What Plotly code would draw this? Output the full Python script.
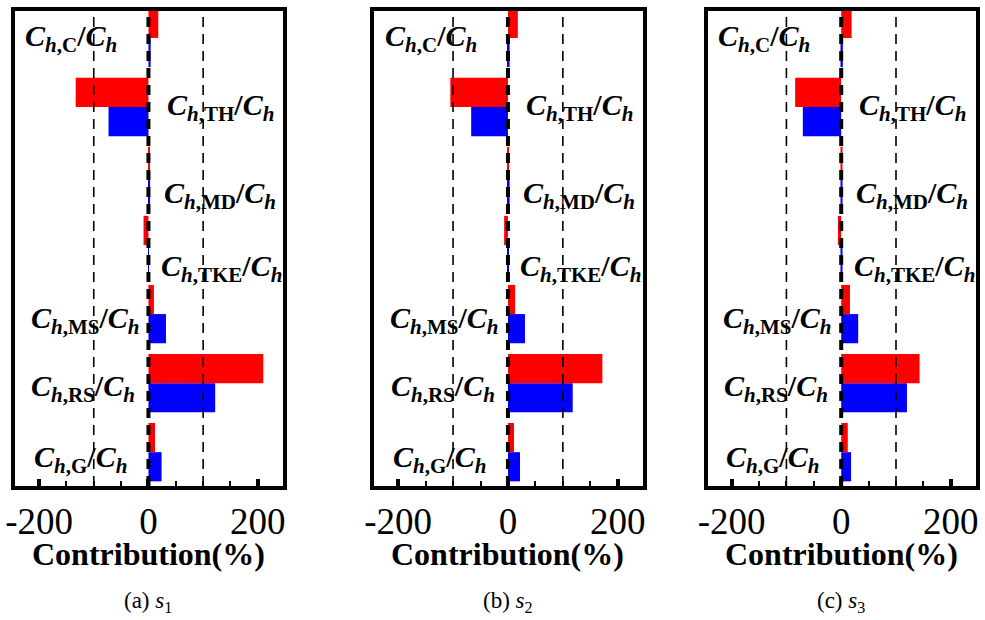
import plotly.graph_objects as go

# ---------------- data ----------------
categories = ["C", "TH", "MD", "TKE", "MS", "RS", "G"]   # top -> bottom
panel_captions = ["(a) <i>s</i><sub>1</sub>", "(b) <i>s</i><sub>2</sub>", "(c) <i>s</i><sub>3</sub>"]

red_s1 = [18, -133, 2, -9, 10, 210, 12]
blue_s1 = [4, -73, 3, 1, 32, 122, 24]
red_s2 = [18, -105, 2, -7, 13, 172, 11]
blue_s2 = [3, -67, 3, 1, 31, 118, 22]
red_s3 = [19, -84, 2, -6, 16, 143, 12]
blue_s3 = [3, -70, 2, 1, 31, 120, 18]

x_ticks = [-200, 0, 200]
ref_lines = [-100, 100]

# label anchor positions (data units) for each category label
label_x = [-141, 131, 130, 133, -116, -119, -125]
label_dy = [0.0, 0.0, -0.27, -0.33, -0.09, -0.07, -0.1]

RED = "#ff0000"
BLUE = "#0000ff"
SERIF = "'Liberation Serif', 'Times New Roman', Times, 'DejaVu Serif', serif"

reds = [red_s1, red_s2, red_s3]
blues = [blue_s1, blue_s2, blue_s3]
W, H = 985, 620
domains = [[15 / W, 283 / W], [374 / W, 643 / W], [707.5 / W, 976 / W]]
ydom = [1 - 486 / H, 1 - 11 / H]

cat_order = categories[::-1]

fig = go.Figure()
shapes = []
annotations = []

for p in range(3):
    sfx = "" if p == 0 else str(p + 1)
    xa, ya = "x" + sfx, "y" + sfx
    fig.add_trace(go.Bar(y=categories, x=blues[p], orientation="h", marker_color=BLUE,
                         marker_line_width=0, xaxis=xa, yaxis=ya, showlegend=False))
    fig.add_trace(go.Bar(y=categories, x=reds[p], orientation="h", marker_color=RED,
                         marker_line_width=0, xaxis=xa, yaxis=ya, showlegend=False))

    axis_common = dict(showline=True, linewidth=4, linecolor="black", mirror=True,
                       showgrid=False, zeroline=False, automargin=False)
    fig.update_layout(**{
        "xaxis" + sfx: dict(domain=domains[p], anchor=ya, range=[-244, 246],
                            tickmode="array", tickvals=x_ticks, ticktext=[str(v) for v in x_ticks],
                            ticks="inside", ticklen=7, tickwidth=4, tickcolor="black",
                            minor=dict(dtick=50, tick0=0, ticks="inside", ticklen=5, tickwidth=2,
                                       tickcolor="black", showgrid=False),
                            tickfont=dict(family=SERIF, size=37, color="black"),
                            ticklabelstandoff=0,
                            **axis_common),
        "yaxis" + sfx: dict(domain=ydom, anchor=xa, type="category",
                            categoryorder="array", categoryarray=cat_order,
                            range=[-0.49, 6.39], showticklabels=False, ticks="",
                            **axis_common),
    })

    for v in ref_lines:
        shapes.append(dict(type="line", xref=xa, yref=ya + " domain", x0=v, x1=v, y0=0, y1=1,
                           line=dict(color="black", width=1.6, dash="10px,7px"), layer="above"))
    shapes.append(dict(type="line", xref=xa, yref=ya + " domain", x0=0, x1=0, y0=0, y1=1,
                       line=dict(color="black", width=4, dash="10px,7px"), layer="above"))

    for i, c in enumerate(categories):
        idx = cat_order.index(c)
        txt = ("<b><i>C</i><sub><i>h</i>,%s</sub>/<i>C</i><sub><i>h</i></sub></b>" % c)
        annotations.append(dict(x=label_x[i], y=idx + label_dy[i], xref=xa, yref=ya,
                                text=txt, showarrow=False, xanchor="center", yanchor="middle",
                                font=dict(family=SERIF, size=30, color="black")))

    annotations.append(dict(x=0, y=1 - 554 / H, xref=xa, yref="paper",
                            text="<b>Contribution(%)</b>", showarrow=False,
                            xanchor="center", yanchor="middle",
                            font=dict(family=SERIF, size=32, color="black")))
    annotations.append(dict(x=0, y=1 - 602 / H, xref=xa, yref="paper",
                            text=panel_captions[p], showarrow=False,
                            xanchor="center", yanchor="middle",
                            font=dict(family=SERIF, size=23, color="black")))

fig.update_layout(
    width=W, height=H,
    margin=dict(l=0, r=0, t=0, b=0, autoexpand=False),
    paper_bgcolor="white", plot_bgcolor="white",
    barmode="group", bargap=0.155, bargroupgap=0,
    shapes=shapes, annotations=annotations,
    showlegend=False,
)

fig.write_html("out.html")
